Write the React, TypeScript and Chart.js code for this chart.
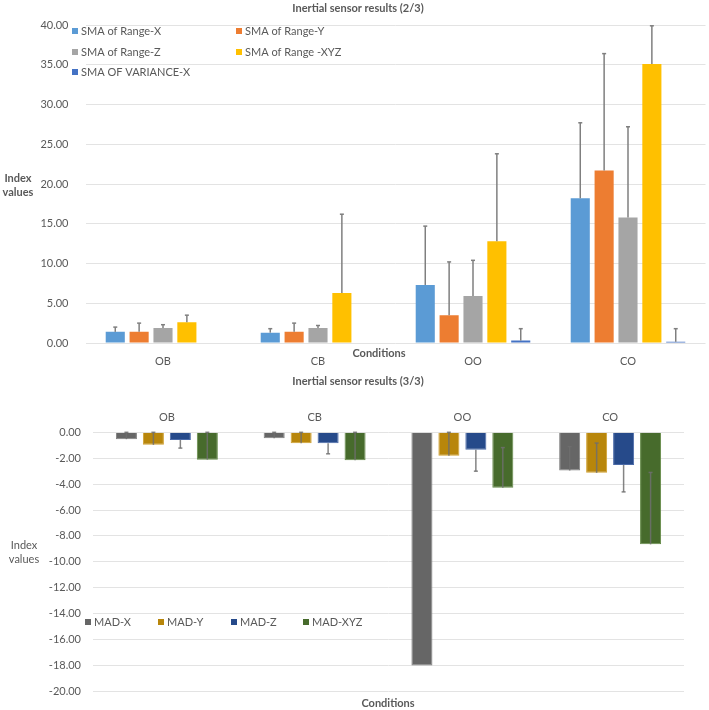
import React, { useEffect, useRef } from "react";
import { Chart, registerables } from "chart.js";

Chart.register(...registerables);

// ---------- Data ----------
const categories = ["OB", "CB", "OO", "CO"];

// Top chart (2/3)
const smaRangeX = [1.4, 1.3, 7.3, 18.2];
const smaRangeXErr = [0.6, 0.5, 7.4, 9.5];
const smaRangeY = [1.4, 1.4, 3.5, 21.7];
const smaRangeYErr = [1.1, 1.1, 6.7, 14.7];
const smaRangeZ = [1.9, 1.9, 5.9, 15.8];
const smaRangeZErr = [0.4, 0.3, 4.5, 11.4];
const smaRangeXYZ = [2.6, 6.3, 12.8, 35.1];
const smaRangeXYZErr = [0.9, 9.9, 11.0, 4.8];
const smaVarX = [0.05, 0.05, 0.3, 0.15];
const smaVarXErr = [0, 0, 1.5, 1.65];

// Bottom chart (3/3)
const madX = [-0.53, -0.46, -18.0, -2.95];
const madXErr = [0.53, 0.46, 0, 1.85];
const madY = [-0.97, -0.84, -1.81, -3.13];
const madYErr = [0.97, 0.84, 1.81, 2.3];
const madZ = [-0.59, -0.84, -1.35, -2.52];
const madZErr = [-0.63, -0.82, -1.65, -2.08];
const madXYZ = [-2.11, -2.15, -4.28, -8.65];
const madXYZErr = [2.11, 2.15, 3.1, 5.55];

const FONT = "Lato, 'Open Sans', sans-serif";
const TEXT = "#595959";
const GRID = "#e3e3e3";

type LegendItem = { label: string; color: string; x: number; y: number };
type TextItem = { text: string; x: number; y: number; bold?: boolean; size?: number };

function makeOverlay(texts: TextItem[], legend: LegendItem[]) {
  return {
    id: "overlayTexts",
    afterDraw(chart: any) {
      const ctx = chart.ctx;
      ctx.save();
      ctx.fillStyle = TEXT;
      ctx.textBaseline = "middle";
      for (const t of texts) {
        ctx.font = `${t.bold ? "bold " : ""}${t.size || 11}px ${FONT}`;
        ctx.textAlign = "center";
        ctx.fillText(t.text, t.x, t.y);
      }
      ctx.font = `11px ${FONT}`;
      ctx.textAlign = "left";
      for (const l of legend) {
        ctx.fillStyle = l.color;
        ctx.fillRect(l.x, l.y - 3, 6, 6);
        ctx.fillStyle = TEXT;
        ctx.fillText(l.label, l.x + 9, l.y);
      }
      ctx.restore();
    },
  };
}

const errorBars = {
  id: "errorBars",
  afterDatasetsDraw(chart: any) {
    const ctx = chart.ctx;
    const yScale = chart.scales.y;
    ctx.save();
    chart.data.datasets.forEach((ds: any, di: number) => {
      const meta = chart.getDatasetMeta(di);
      const errs: number[] = ds.errors || [];
      meta.data.forEach((el: any, i: number) => {
        const e = errs[i];
        if (!e) return;
        const v = ds.data[i];
        const y0 = yScale.getPixelForValue(v);
        const y1 = yScale.getPixelForValue(v + e);
        ctx.strokeStyle = ds.errColor || "#7f7f7f";
        ctx.lineWidth = 1.5;
        ctx.beginPath();
        ctx.moveTo(el.x, y0);
        ctx.lineTo(el.x, y1);
        ctx.stroke();
        ctx.beginPath();
        ctx.moveTo(el.x - 2, y1);
        ctx.lineTo(el.x + 2, y1);
        ctx.stroke();
      });
    });
    ctx.restore();
  },
};

function TopChart() {
  const ref = useRef<HTMLCanvasElement | null>(null);
  useEffect(() => {
    if (!ref.current) return;
    const mk = (label: string, data: number[], errors: number[], color: string) => ({
      label,
      data,
      errors,
      backgroundColor: color,
      borderWidth: 0,
      categoryPercentage: 0.77,
      barPercentage: 0.8,
    });
    const chart = new Chart(ref.current, {
      type: "bar",
      data: {
        labels: categories,
        datasets: [
          mk("SMA of Range-X", smaRangeX, smaRangeXErr, "#5B9BD5"),
          mk("SMA of Range-Y", smaRangeY, smaRangeYErr, "#ED7D31"),
          mk("SMA of Range-Z", smaRangeZ, smaRangeZErr, "#A5A5A5"),
          mk("SMA of Range -XYZ", smaRangeXYZ, smaRangeXYZErr, "#FFC000"),
          mk("SMA OF VARIANCE-X", smaVarX, smaVarXErr, "#4472C4"),
        ] as any,
      },
      options: {
        responsive: false,
        animation: false,
        devicePixelRatio: 1,
        layout: { padding: { left: 0, right: 3.5, top: 25, bottom: 0 } },
        plugins: { legend: { display: false }, tooltip: { enabled: false }, title: { display: false } },
        scales: {
          x: {
            grid: { display: false },
            border: { display: false },
            ticks: { color: TEXT, font: { family: FONT, size: 11 }, padding: 4 },
            afterFit: (s: any) => { s.height = 27; },
          },
          y: {
            min: 0,
            max: 40,
            grid: { color: GRID, drawTicks: false },
            border: { display: false },
            ticks: {
              stepSize: 5,
              color: TEXT,
              font: { family: FONT, size: 11 },
              padding: 17,
              callback: (v: any) => Number(v).toFixed(2),
            },
            afterFit: (s: any) => { s.width = 85.5; },
          },
        },
      } as any,
      plugins: [
        errorBars,
        makeOverlay(
          [
            { text: "Inertial sensor results (2/3)", x: 358, y: 8, bold: true },
            { text: "Index", x: 18, y: 178, bold: true },
            { text: "values", x: 18, y: 192, bold: true },
            { text: "Conditions", x: 379, y: 353, bold: true },
          ],
          [
            { label: "SMA of Range-X", color: "#5B9BD5", x: 72, y: 31 },
            { label: "SMA of Range-Y", color: "#ED7D31", x: 236, y: 31 },
            { label: "SMA of Range-Z", color: "#A5A5A5", x: 72, y: 52 },
            { label: "SMA of Range -XYZ", color: "#FFC000", x: 236, y: 52 },
            { label: "SMA OF VARIANCE-X", color: "#4472C4", x: 72, y: 72 },
          ]
        ),
      ],
    });
    return () => chart.destroy();
  }, []);
  return <canvas ref={ref} width={709} height={370} style={{ display: "block" }} />;
}

function BottomChart() {
  const ref = useRef<HTMLCanvasElement | null>(null);
  useEffect(() => {
    if (!ref.current) return;
    const mk = (label: string, data: number[], errors: number[], color: string, border: string) => ({
      label,
      data,
      errors,
      backgroundColor: color,
      borderColor: border,
      borderWidth: 1,
      errColor: "rgba(110,110,110,0.85)",
      categoryPercentage: 0.73,
      barPercentage: 0.78,
    });
    const chart = new Chart(ref.current, {
      type: "bar",
      data: {
        labels: categories,
        datasets: [
          mk("MAD-X", madX, madXErr, "#666666", "#808080"),
          mk("MAD-Y", madY, madYErr, "#B8860B", "#D0A030"),
          mk("MAD-Z", madZ, madZErr, "#264A8A", "#4A6AA8"),
          mk("MAD-XYZ", madXYZ, madXYZErr, "#476B2C", "#648A48"),
        ] as any,
      },
      options: {
        responsive: false,
        animation: false,
        devicePixelRatio: 1,
        layout: { padding: { left: 0, right: 25, top: 0, bottom: 15.7 } },
        plugins: { legend: { display: false }, tooltip: { enabled: false }, title: { display: false } },
        scales: {
          x: {
            position: "top",
            grid: { display: false },
            border: { display: false },
            ticks: { color: TEXT, font: { family: FONT, size: 11 }, padding: 0 },
            afterFit: (s: any) => { s.height = 62.3; },
          },
          y: {
            min: -20,
            max: 0,
            grid: { color: GRID, drawTicks: false },
            border: { display: false },
            ticks: {
              stepSize: 2,
              color: TEXT,
              font: { family: FONT, size: 11 },
              padding: 12,
              callback: (v: any) => Number(v).toFixed(2),
            },
            afterFit: (s: any) => { s.width = 93; },
          },
        },
      } as any,
      plugins: [
        errorBars,
        makeOverlay(
          [
            { text: "Inertial sensor results (3/3)", x: 358, y: 11, bold: true },
            { text: "Index", x: 24, y: 175 },
            { text: "values", x: 24, y: 189 },
            { text: "Conditions", x: 388, y: 333, bold: true },
          ],
          [
            { label: "MAD-X", color: "#666666", x: 85, y: 252 },
            { label: "MAD-Y", color: "#B8860B", x: 158, y: 252 },
            { label: "MAD-Z", color: "#264A8A", x: 231, y: 252 },
            { label: "MAD-XYZ", color: "#476B2C", x: 303, y: 252 },
          ]
        ),
      ],
    });
    return () => chart.destroy();
  }, []);
  return <canvas ref={ref} width={709} height={340} style={{ display: "block" }} />;
}

export default function App() {
  return (
    <div style={{ position: "absolute", left: 0, top: 0, width: 709, height: 710, background: "#fff" }}>
      <TopChart />
      <BottomChart />
    </div>
  );
}
